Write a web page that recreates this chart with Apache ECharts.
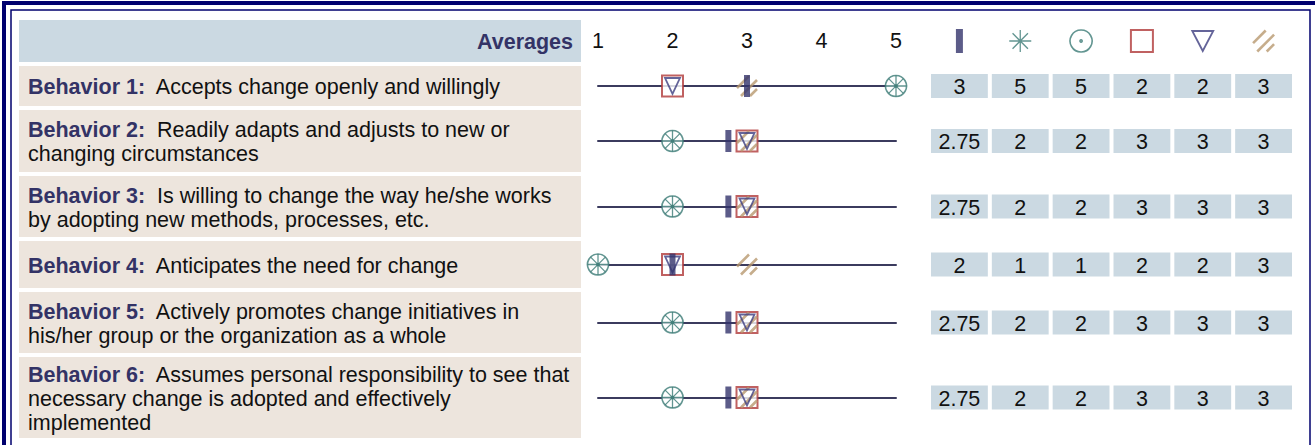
<!DOCTYPE html>
<html>
<head>
<meta charset="utf-8">
<script src="https://cdn.jsdelivr.net/npm/echarts@6/dist/echarts.min.js"></script>
<style>
  html, body { margin: 0; padding: 0; background: #fff; }
  #chart { width: 1315px; height: 445px; }
</style>
</head>
<body>
<div id="chart"></div>
<script>
// --- data ---
const behaviorLabels = ['Behavior 1:', 'Behavior 2:', 'Behavior 3:', 'Behavior 4:', 'Behavior 5:', 'Behavior 6:'];
const behaviorTexts = [
    'Accepts change openly and willingly',
    'Readily adapts and adjusts to new or\nchanging circumstances',
    'Is willing to change the way he/she works\nby adopting new methods, processes, etc.',
    'Anticipates the need for change',
    'Actively promotes change initiatives in\nhis/her group or the organization as a whole',
    'Assumes personal responsibility to see that\nnecessary change is adopted and effectively\nimplemented'
];
const scaleTicks = [1, 2, 3, 4, 5];
const markerKeys = ['bar', 'asterisk', 'circle', 'square', 'triangle', 'hatch'];
const averageScores  = [3, 2.75, 2.75, 2, 2.75, 2.75];
const asteriskScores = [5, 2, 2, 1, 2, 2];
const circleScores   = [5, 2, 2, 1, 2, 2];
const squareScores   = [2, 3, 3, 2, 3, 3];
const triangleScores = [2, 3, 3, 2, 3, 3];
const hatchScores    = [3, 3, 3, 3, 3, 3];

// --- layout / styles ---
const scoresByKey = {bar: averageScores, asterisk: asteriskScores, circle: circleScores,
    square: squareScores, triangle: triangleScores, hatch: hatchScores};
const drawOrder = ['square', 'hatch', 'triangle', 'circle', 'asterisk', 'bar'];
const rowTops = [66, 110, 176, 241, 292, 357];
const rowHeights = [40, 62, 61, 47, 61, 81];
const FONT = "'Liberation Sans', Arial, sans-serif";
const FS = 21.5;
const teal = '#3b7a76';
const markerStyles = {
    bar: {symbol: 'rect', size: [6, 22], legendSize: [7, 24], itemStyle: {color: '#33336b'}},
    asterisk: {symbol: 'path://M10,0L10,20M0,10L20,10M3,3L17,17M17,3L3,17', size: 21, legendSize: 22,
        itemStyle: {color: 'rgba(0,0,0,0)', borderColor: teal, borderWidth: 1.3}},
    circle: {symbol: 'path://M10,0A10,10,0,1,1,9.99,0ZM10,9A1,1,0,1,1,9.99,9Z', size: 21, legendSize: 22,
        itemStyle: {color: '#ffffff', borderColor: teal, borderWidth: 1.6}},
    square: {symbol: 'rect', size: 21, legendSize: 22,
        itemStyle: {color: '#ffffff', borderColor: '#b03a3a', borderWidth: 2}},
    triangle: {symbol: 'path://M0,0L20,0L10,20Z', size: [15, 16], legendSize: [21, 20],
        itemStyle: {color: 'rgba(0,0,0,0)', borderColor: '#3d3d80', borderWidth: 1.8}},
    hatch: {symbol: 'path://M0,12L12,0M4,20L20,4M13,20L20,13', size: 20, legendSize: 21,
        itemStyle: {color: 'rgba(0,0,0,0)', borderColor: '#b8996f', borderWidth: 2.6}}
};

const grids = [], xAxes = [], yAxes = [], series = [];
const hiddenY = {type: 'value', min: -1, max: 1, show: false};

// header: scale numbers
grids.push({left: 598, width: 298, top: 54, height: 1});
xAxes.push({gridIndex: 0, type: 'value', position: 'top', min: scaleTicks[0], max: scaleTicks[scaleTicks.length - 1], interval: 1,
    axisLine: {show: false}, axisTick: {show: false}, splitLine: {show: false},
    axisLabel: {margin: 2, color: '#111', fontSize: FS, fontFamily: FONT, showMinLabel: true, showMaxLabel: true}});
yAxes.push(Object.assign({gridIndex: 0}, hiddenY));

// header: marker icons
grids.push({left: 929, width: 365, top: 29, height: 24});
xAxes.push({gridIndex: 1, type: 'category', data: markerKeys, show: false});
yAxes.push(Object.assign({gridIndex: 1}, hiddenY));
series.push({
    type: 'scatter', xAxisIndex: 1, yAxisIndex: 1, silent: true, clip: false,
    data: markerKeys.map(k => ({value: [k, 0], symbol: markerStyles[k].symbol,
        symbolSize: markerStyles[k].legendSize, itemStyle: markerStyles[k].itemStyle}))
});

behaviorTexts.forEach((t, i) => {
    const mid = rowTops[i] + rowHeights[i] / 2;
    const g = grids.length;
    // dot plot line
    grids.push({left: 598, width: 298, top: mid - 12, height: 24});
    xAxes.push({gridIndex: g, type: 'value', min: scaleTicks[0], max: scaleTicks[scaleTicks.length - 1],
        axisLine: {show: true, onZero: true, lineStyle: {color: '#3b3b5e', width: 2}},
        axisTick: {show: false}, axisLabel: {show: false}, splitLine: {show: false}});
    yAxes.push(Object.assign({gridIndex: g}, hiddenY));
    series.push({
        type: 'scatter', xAxisIndex: g, yAxisIndex: g, silent: true, clip: false,
        data: drawOrder.map(k => ({value: [scoresByKey[k][i], 0], symbol: markerStyles[k].symbol,
            symbolSize: markerStyles[k].size, itemStyle: markerStyles[k].itemStyle}))
    });
    // score cells
    grids.push({left: 929, width: 365, top: mid - 12, height: 24});
    xAxes.push({gridIndex: g + 1, type: 'category', data: markerKeys, show: false});
    yAxes.push(Object.assign({gridIndex: g + 1}, hiddenY));
    series.push({
        type: 'custom', xAxisIndex: g + 1, yAxisIndex: g + 1, silent: true,
        encode: {x: 0, y: 1},
        data: markerKeys.map((k, c) => [c, 0, scoresByKey[k][i]]),
        renderItem: function (params, api) {
            const c = api.coord([api.value(0), 0]);
            const w = api.size([1, 0])[0] - 4;
            return {type: 'group', children: [
                {type: 'rect', shape: {x: c[0] - w / 2, y: c[1] - 12, width: w, height: 24}, style: {fill: '#cbd9e2'}},
                {type: 'text', style: {text: String(api.value(2)), x: c[0], y: c[1] + 1, align: 'center',
                    verticalAlign: 'middle', font: FS + 'px ' + FONT, fill: '#111'}}
            ]};
        }
    });
});

// table backgrounds and behaviour text
const graphic = [
    {type: 'rect', shape: {x: 4, y: 3, width: 1330, height: 500}, style: {fill: 'none', stroke: '#00006e', lineWidth: 4}},
    {type: 'rect', shape: {x: 11, y: 10, width: 1299, height: 500}, style: {fill: 'none', stroke: '#00006e', lineWidth: 1.5}},
    {type: 'rect', shape: {x: 19, y: 20, width: 562, height: 42}, style: {fill: '#cbd9e2'}},
    {type: 'text', style: {text: 'Averages', x: 573, y: 42, align: 'right', verticalAlign: 'middle',
        font: 'bold ' + FS + 'px ' + FONT, fill: '#333366'}}
];
behaviorTexts.forEach((t, i) => {
    graphic.push({type: 'rect', shape: {x: 19, y: rowTops[i], width: 562, height: rowHeights[i]}, style: {fill: '#ede5dd'}});
    graphic.push({type: 'text', style: {
        text: '{b|' + behaviorLabels[i] + '}  ' + t,
        x: 28, y: rowTops[i] + rowHeights[i] / 2 + 1, verticalAlign: 'middle',
        font: FS + 'px ' + FONT, fill: '#111', lineHeight: 24,
        rich: {b: {font: 'bold ' + FS + 'px ' + FONT, fill: '#333366', lineHeight: 24}}
    }});
});

const myChart = echarts.init(document.getElementById('chart'), null, {renderer: 'svg'});
myChart.setOption({
    animation: false,
    grid: grids,
    xAxis: xAxes,
    yAxis: yAxes,
    series: series,
    graphic: graphic
});
</script>
</body>
</html>
